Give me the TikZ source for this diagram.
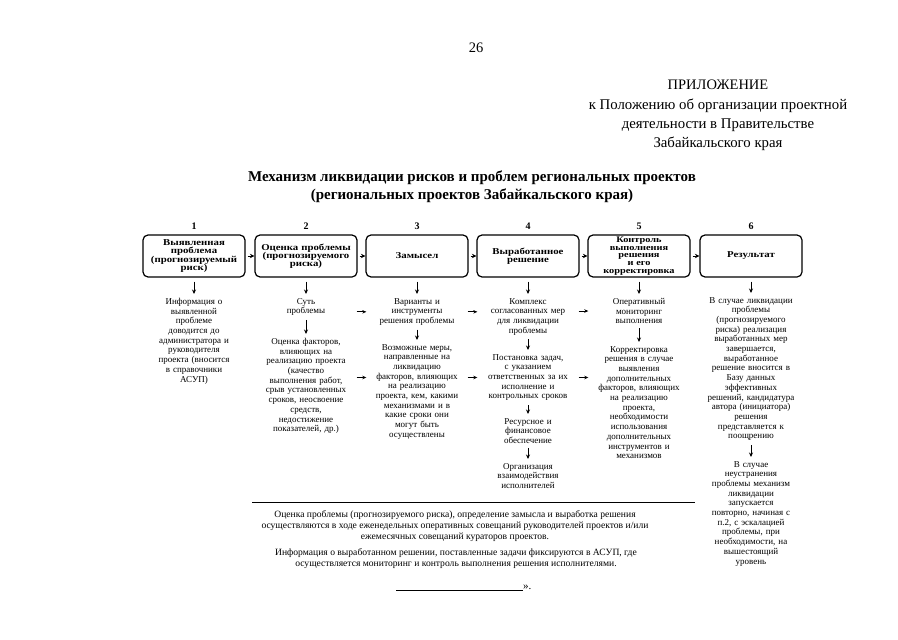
\documentclass[tikz,border=0pt]{standalone}
\usepackage{fontspec}
\setmainfont{Liberation Serif}
\newfontfamily\stagefont[FakeStretch=1.2]{Liberation Serif}
\usetikzlibrary{arrows.meta}

\tikzset{
  stage/.style={draw, line width=1.2pt, rounded corners=5pt, minimum width=102pt, minimum height=42pt,
    text width=98pt, align=center, inner sep=1pt, font=\stagefont\fontsize{9}{8.2}\selectfont\bfseries},
  stagenum/.style={font=\fontsize{10}{10}\selectfont\bfseries},
  coltext/.style={anchor=north, text width=100pt, align=center, inner sep=0pt, font=\fontsize{9}{9.7}\selectfont},
  varr/.style={-{Stealth[length=4.5pt,width=4pt]}, thick, shorten <=4pt, shorten >=4pt},
  harr/.style={-{Stealth[length=4pt,width=3.5pt]}, thick, shorten <=0.5pt, shorten >=0.5pt},
  barr/.style={-{Stealth[length=4.5pt,width=4.5pt]}, thick, shorten <=2pt}
}

\begin{document}
\begin{tikzpicture}[x=1pt,y=-1pt]

    \useasboundingbox[fill=white] (0,0) rectangle (898,640);

    % page heading
    \node[font=\fontsize{14.5}{14.5}\selectfont] (page) at (476,48) {26};
    \node[font=\fontsize{14.5}{14.5}\selectfont] (annex) at (718,85) {ПРИЛОЖЕНИЕ};
    \node[font=\fontsize{14.8}{19}\selectfont, align=center, anchor=north] (annexto) at (718,95.5)
        {к Положению об организации проектной\\деятельности в Правительстве\\Забайкальского края};
    \node[font=\fontsize{15}{18}\selectfont\bfseries, align=center] (title) at (472,187)
        {Механизм ликвидации рисков и проблем региональных проектов\\(региональных проектов Забайкальского края)};

    % stages
    \node[stage] (b1) at (194,256) {Выявленная\\проблема\\(прогнозируемый\\риск)};
    \node[stage] (b2) at (306,256) {Оценка проблемы\\(прогнозируемого\\риска)};
    \node[stage] (b3) at (417,256) {Замысел};
    \node[stage] (b4) at (528,256) {Выработанное\\решение};
    \node[stage, font=\stagefont\fontsize{8.6}{7.6}\selectfont\bfseries] (b5) at (639,256) {Контроль\\выполнения\\решения\\и его\\корректировка};
    \node[stage] (b6) at (751,256) {Результат};

    \foreach \i in {1,...,6}
        \node[stagenum, above=1pt] (n\i) at (b\i.north) {\i};

    \foreach \i/\j in {1/2,2/3,3/4,4/5,5/6}
        \draw[barr] (b\i) -- (b\j);

    % column texts
    \node[coltext] (t1) at (194,298) {Информация о\\выявленной\\проблеме\\доводится до\\администратора и\\руководителя\\проекта (вносится\\в справочники\\АСУП)};

    \node[coltext] (t2a) at (306,298) {Суть\\проблемы};
    \node[coltext] (t2b) at (306,338) {Оценка факторов,\\влияющих на\\реализацию проекта\\(качество\\выполнения работ,\\срыв установленных\\сроков, неосвоение\\средств,\\недостижение\\показателей, др.)};

    \node[coltext] (t3a) at (417,298) {Варианты и\\инструменты\\решения проблемы};
    \node[coltext] (t3b) at (417,344) {Возможные меры,\\направленные на\\ликвидацию\\факторов, влияющих\\на реализацию\\проекта, кем, какими\\механизмами и в\\какие сроки они\\могут быть\\осуществлены};

    \node[coltext] (t4a) at (528,298) {Комплекс\\согласованных мер\\для ликвидации\\проблемы};
    \node[coltext] (t4b) at (528,354) {Постановка задач,\\с указанием\\ответственных за их\\исполнение и\\контрольных сроков};
    \node[coltext] (t4c) at (528,418) {Ресурсное и\\финансовое\\обеспечение};
    \node[coltext] (t4d) at (528,463) {Организация\\взаимодействия\\исполнителей};

    \node[coltext] (t5a) at (639,298) {Оперативный\\мониторинг\\выполнения};
    \node[coltext] (t5b) at (639,346) {Корректировка\\решения в случае\\выявления\\дополнительных\\факторов, влияющих\\на реализацию\\проекта,\\необходимости\\использования\\дополнительных\\инструментов и\\механизмов};

    \node[coltext] (t6a) at (751,297) {В случае ликвидации\\проблемы\\(прогнозируемого\\риска) реализация\\выработанных мер\\завершается,\\выработанное\\решение вносится в\\Базу данных\\эффективных\\решений, кандидатура\\автора (инициатора)\\решения\\представляется к\\поощрению};
    \node[coltext] (t6b) at (751,461) {В случае\\неустранения\\проблемы механизм\\ликвидации\\запускается\\повторно, начиная с\\п.2, с эскалацией\\проблемы, при\\необходимости, на\\вышестоящий\\уровень};

    % down arrows
    \draw[varr] (b1) -- (t1);
    \draw[varr] (b2) -- (t2a);
    \draw[varr] (t2a) -- (t2b);
    \draw[varr] (b3) -- (t3a);
    \draw[varr] (t3a) -- (t3b);
    \draw[varr] (b4) -- (t4a);
    \draw[varr] (t4a) -- (t4b);
    \draw[varr] (t4b) -- (t4c);
    \draw[varr] (t4c) -- (t4d);
    \draw[varr] (b5) -- (t5a);
    \draw[varr] (t5a) -- (t5b);
    \draw[varr] (b6) -- (t6a);
    \draw[varr] (t6a) -- (t6b);

    % side arrows
    \draw[harr] (t2a.east |- t3a) -- (t3a.west);
    \draw[harr] (t3a.east) -- (t3a.east -| t4a.west);
    \draw[harr] (t4a.east |- t5a) -- (t5a.west);
    \draw[harr] (t2b.east |- t4b) -- (t3b.west |- t4b);
    \draw[harr] (t3b.east |- t4b) -- (t4b.west);
    \draw[harr] (t4b.east) -- (t5b.west |- t4b);

    % notes
    \draw[thick] (252,502) -- (695,502);
    \node[font=\fontsize{9.6}{11}\selectfont, align=center, anchor=north] (note1) at (455,507)
        {Оценка проблемы (прогнозируемого риска), определение замысла и выработка решения\\осуществляются в ходе еженедельных оперативных совещаний руководителей проектов и/или\\ежемесячных совещаний кураторов проектов.};
    \node[font=\fontsize{9.6}{11}\selectfont, align=center, anchor=north] (note2) at (456,545)
        {Информация о выработанном решении, поставленные задачи фиксируются в АСУП, где\\осуществляется мониторинг и контроль выполнения решения исполнителями.};

    \draw (396,590) -- (523,590);
    \node[font=\fontsize{11}{11}\selectfont, anchor=base west, inner sep=0pt] (close) at (523,589) {».};

\end{tikzpicture}
\end{document}
